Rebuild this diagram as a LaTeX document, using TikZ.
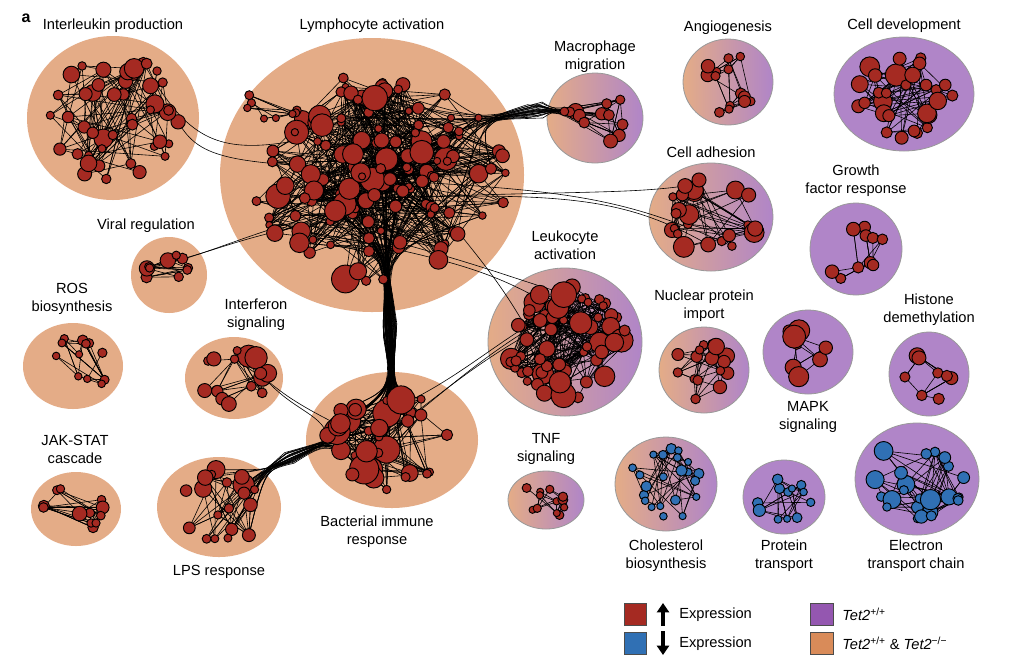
\documentclass[tikz,border=0pt]{standalone}
\usepackage{fontspec}
\setmainfont{Liberation Sans}
\usetikzlibrary{arrows.meta}
\pgfdeclarelayer{bg}\pgfdeclarelayer{edges}
\pgfsetlayers{bg,edges,main}
\definecolor{bgor}{HTML}{E4AC87}
\definecolor{bgpu}{HTML}{B085C8}
\definecolor{lgor}{HTML}{D98B59}
\definecolor{lgpu}{HTML}{9457B0}
\definecolor{nred}{HTML}{A52A22}
\definecolor{nblue}{HTML}{3070B4}
\tikzset{
  lab/.style={font=\fontsize{11}{13.5}\selectfont, align=center, inner sep=0pt},
  dot/.style={circle, draw=black, line width=0.7pt, inner sep=0pt},
  lnk/.style={draw=black, line width=0.45pt},
  orcl/.style={fill=bgor},
  pucl/.style={fill=bgpu, draw=black!40, line width=0.6pt},
  grcl/.style={left color=bgor, right color=bgpu, draw=black!40, line width=0.6pt},
  lgbox/.style={draw=black!70, line width=0.6pt, minimum width=17pt, minimum height=16.5pt, inner sep=0pt},
}
\def\dotcol{nred}
\def\expo{0.4}
% #1 id, #2 cx, #3 cy, #4 rx, #5 ry, #6 N, #7 rmin, #8 rmax, #9 edges
\newcommand\netcl[9]{%
  \foreach \i in {1,...,#6}{%
    \pgfmathsetmacro\ang{rnd*360}%
    \pgfmathsetmacro\rr{max(rnd,0.02)^\expo}%
    \pgfmathsetmacro\sz{#7+rnd*rnd*(#8-#7)}%
    \node[dot, fill=\dotcol, minimum size={\sz*0.75pt}] (#1-\i) at ({#2+#4*\rr*cos(\ang)},{#3+#5*\rr*sin(\ang)}) {};
  }%
  \begin{pgfonlayer}{edges}
  \foreach \j in {1,...,#9}{%
    \pgfmathrandominteger\a{1}{#6}%
    \pgfmathrandominteger\b{1}{#6}%
    \draw[lnk] (#1-\a.center) -- (#1-\b.center);
  }%
  \end{pgfonlayer}
}
% #1 A id, #2 NA, #3 B id, #4 NB, #5 count, #6 ctrl1, #7 ctrl2
\newcommand\bundle[7]{%
  \begin{pgfonlayer}{edges}
  \foreach \j in {1,...,#5}{%
    \pgfmathrandominteger\a{1}{#2}%
    \pgfmathrandominteger\b{1}{#4}%
    \draw[lnk] (#1-\a.center) .. controls #6 and #7 .. (#3-\b.center);
  }%
  \end{pgfonlayer}
}
% waisted bundle: #1 A, #2 NA, #3 B, #4 NB, #5 count, #6 ctrl A side, #7 waist x,y, #8 ctrl B side, #9 jitter
\newcommand\wbundle[9]{%
  \begin{pgfonlayer}{edges}
  \foreach \j in {1,...,#5}{%
    \pgfmathrandominteger\a{1}{#2}%
    \pgfmathrandominteger\b{1}{#4}%
    \pgfmathsetmacro\jx{rand*#9}%
    \pgfmathsetmacro\jy{rand*#9}%
    \draw[lnk] (#1-\a.center) .. controls #6 .. ([shift={(\jx,\jy)}]#7) .. controls #8 .. (#3-\b.center);
  }%
  \end{pgfonlayer}
}
\begin{document}
\begin{tikzpicture}[x=0.75pt, y=-0.75pt]
\useasboundingbox (0,0) rectangle (1012,669);
\pgfmathsetseed{4711}
% ---------- cluster backgrounds
\begin{pgfonlayer}{bg}
\fill[white] (0,0) rectangle (1012,669);
\path[orcl] (113,118) ellipse [x radius=86, y radius=82];
\path[orcl] (372,175) ellipse [x radius=152, y radius=137];
\path[grcl] (595,118) ellipse [x radius=48, y radius=45];
\path[grcl] (728,82) ellipse [x radius=45, y radius=43];
\path[pucl] (904,94) ellipse [x radius=70, y radius=57];
\path[grcl] (711,217) ellipse [x radius=62, y radius=54];
\path[pucl] (856,249) ellipse [x radius=46, y radius=46];
\path[orcl] (169,275) ellipse [x radius=38, y radius=38];
\path[orcl] (73,366) ellipse [x radius=50, y radius=43];
\path[orcl] (234,378) ellipse [x radius=49, y radius=41];
\path[grcl] (565,342) ellipse [x radius=77, y radius=74];
\path[grcl] (704,370) ellipse [x radius=45, y radius=43];
\path[pucl] (808,352) ellipse [x radius=45, y radius=42];
\path[pucl] (929,374) ellipse [x radius=40, y radius=42];
\path[orcl] (76,509) ellipse [x radius=45, y radius=37];
\path[orcl] (392,440) ellipse [x radius=86, y radius=68];
\path[orcl] (219,507) ellipse [x radius=62, y radius=50];
\path[grcl] (546,500) ellipse [x radius=38, y radius=29];
\path[grcl] (666,484) ellipse [x radius=51, y radius=47];
\path[pucl] (784,497) ellipse [x radius=41, y radius=37];
\path[pucl] (917,479) ellipse [x radius=62, y radius=56];
\end{pgfonlayer}
% ---------- networks
\netcl{I}{113}{118}{68}{64}{45}{8}{22}{110}
\def\expo{0.8}
\netcl{L}{380}{178}{128}{105}{135}{7}{30}{520}
\def\expo{0.4}
\netcl{Lb}{274}{103}{28}{22}{8}{7}{10}{14}
\netcl{M}{597}{120}{35}{32}{12}{8}{26}{25}
\netcl{A}{728}{84}{32}{30}{14}{8}{16}{30}
\netcl{D}{904}{96}{55}{42}{28}{10}{26}{70}
\netcl{C}{713}{218}{48}{40}{24}{8}{26}{50}
\netcl{G}{856}{251}{32}{32}{10}{10}{22}{18}
\netcl{V}{169}{276}{25}{24}{10}{8}{18}{18}
\netcl{R}{73}{366}{38}{30}{12}{7}{12}{28}
\netcl{F}{234}{378}{36}{28}{16}{8}{26}{30}
\netcl{K}{565}{342}{62}{58}{70}{8}{30}{260}
\netcl{P}{704}{371}{34}{30}{16}{8}{18}{40}
\netcl{S}{808}{352}{30}{28}{8}{10}{30}{14}
\netcl{H}{929}{375}{28}{30}{8}{10}{18}{16}
\netcl{J}{76}{509}{33}{26}{12}{8}{16}{30}
\netcl{B}{392}{440}{65}{50}{40}{8}{30}{100}
\netcl{Q}{219}{507}{48}{38}{20}{8}{24}{40}
\netcl{T}{546}{500}{27}{19}{12}{7}{11}{20}
\def\dotcol{nblue}
\netcl{Ch}{666}{484}{40}{36}{22}{7}{12}{45}
\netcl{Pt}{784}{497}{30}{27}{12}{7}{18}{30}
\netcl{E}{917}{479}{48}{42}{25}{8}{22}{70}
% ---------- inter-cluster bundles
\wbundle{L}{135}{B}{40}{70}{(386,250)}{390,330}{(392,390)}{7}
\wbundle{B}{40}{Q}{20}{25}{(330,440)}{290,458}{(265,470)}{6}
\wbundle{L}{135}{M}{12}{25}{(480,120)}{535,110}{(555,110)}{8}
\bundle{L}{135}{C}{24}{3}{(560,190)}{(620,195)}
\bundle{L}{135}{K}{70}{3}{(480,262)}{(500,275)}
\bundle{L}{135}{I}{45}{2}{(230,165)}{(200,160)}
\bundle{L}{135}{V}{10}{2}{(240,235)}{(210,255)}
\bundle{B}{40}{K}{70}{3}{(440,400)}{(480,350)}
\bundle{F}{16}{B}{40}{2}{(290,410)}{(320,412)}
% ---------- labels
\node[font=\bfseries\fontsize{12}{14}\selectfont, inner sep=0pt] (tagA) at (26,18) {a};
\node[lab] (l1) at (113,26) {Interleukin production};
\node[lab] (l2) at (372,26) {Lymphocyte activation};
\node[lab] (l3) at (595,57) {Macrophage\\migration};
\node[lab] (l4) at (728,28) {Angiogenesis};
\node[lab] (l5) at (904,26) {Cell development};
\node[lab] (l6) at (711,152) {Cell adhesion};
\node[lab] (l7) at (856,181) {Growth\\factor response};
\node[lab] (l8) at (146,226) {Viral regulation};
\node[lab] (l9) at (72,299) {ROS\\biosynthesis};
\node[lab] (l10) at (256,315) {Interferon\\signaling};
\node[lab] (l11) at (565,245) {Leukocyte\\activation};
\node[lab] (l12) at (704,306) {Nuclear protein\\import};
\node[lab] (l13) at (929,310) {Histone\\demethylation};
\node[lab] (l14) at (808,417) {MAPK\\signaling};
\node[lab] (l15) at (75,449) {JAK-STAT\\cascade};
\node[lab] (l16) at (546,449) {TNF\\signaling};
\node[lab] (l17) at (377,532) {Bacterial immune\\response};
\node[lab] (l18) at (219,572) {LPS response};
\node[lab] (l19) at (666,556) {Cholesterol\\biosynthesis};
\node[lab] (l20) at (784,556) {Protein\\transport};
\node[lab] (l21) at (916,556) {Electron\\transport chain};
% ---------- legend
\node[lgbox, fill=nred] (sq1) at (635.5,614) {};
\node[lgbox, fill=nblue] (sq2) at (635.5,643) {};
\node[lgbox, fill=lgpu] (sq3) at (822,614) {};
\node[lgbox, fill=lgor] (sq4) at (822,643) {};
\coordinate (upa) at (663,626);
\coordinate (upb) at (663,603);
\coordinate (dna) at (663,631);
\coordinate (dnb) at (663,655);
\draw[line width=2.6pt, -{Triangle[width=9pt,length=7pt]}] (upa) -- (upb);
\draw[line width=2.6pt, -{Triangle[width=9pt,length=7pt]}] (dna) -- (dnb);
\node[lab, anchor=west] (t1) at (679,615) {Expression};
\node[lab, anchor=west] (t2) at (679,644) {Expression};
\node[lab, anchor=west] (t3) at (842,614) {\textit{Tet2}\textsuperscript{+/+}};
\node[lab, anchor=west] (t4) at (842,643) {\textit{Tet2}\textsuperscript{+/+} \& \textit{Tet2}\textsuperscript{\textminus/\textminus}};
\end{tikzpicture}
\end{document}
